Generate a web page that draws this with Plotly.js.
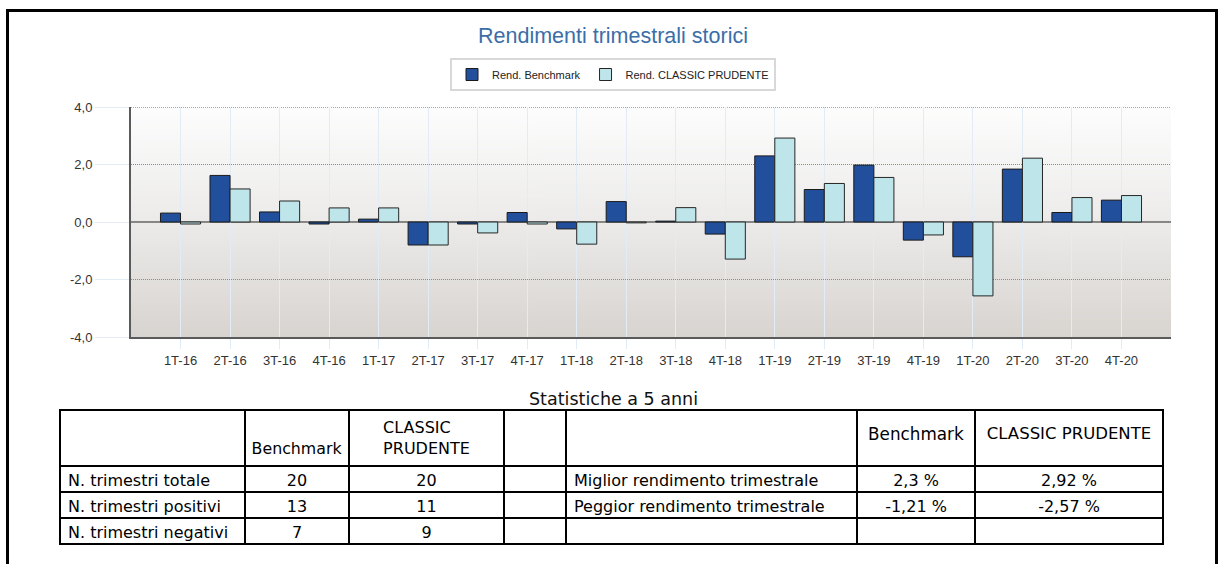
<!DOCTYPE html>
<html>
<head>
<meta charset="utf-8">
<script src="https://cdn.plot.ly/plotly-3.0.1.min.js"></script>
<style>
html,body{margin:0;padding:0;background:#fff;}
#chart{width:1226px;height:564px;}
</style>
</head>
<body>
<div id="chart"></div>
<script>
// ---- Data ----
const quarters = ['1T-16','2T-16','3T-16','4T-16','1T-17','2T-17','3T-17','4T-17','1T-18','2T-18',
                  '3T-18','4T-18','1T-19','2T-19','3T-19','4T-19','1T-20','2T-20','3T-20','4T-20'];
const benchmark = [0.31, 1.62, 0.35, -0.07, 0.10, -0.80, -0.07, 0.33, -0.24, 0.71,
                   0.03, -0.42, 2.30, 1.13, 1.98, -0.63, -1.21, 1.84, 0.33, 0.76];
const prudente  = [-0.07, 1.15, 0.73, 0.49, 0.49, -0.80, -0.38, -0.07, -0.77, -0.03,
                   0.50, -1.29, 2.92, 1.34, 1.55, -0.45, -2.57, 2.22, 0.85, 0.92];
const seriesNames = ['Rend. Benchmark', 'Rend. CLASSIC PRUDENTE'];
const yTicks = [-4, -2, 0, 2, 4];
const yTickText = ['-4,0', '-2,0', '0,0', '2,0', '4,0'];

const tableHeader = ['', '\u00a0<br>Benchmark', 'CLASSIC<br>PRUDENTE', '', '', '<br>Benchmark', '<br>CLASSIC PRUDENTE'];
const statLabels = ['N. trimestri totale', 'N. trimestri positivi', 'N. trimestri negativi'];
const statBench = ['20', '13', '7'];
const statPrud = ['20', '11', '9'];
const statBlank = ['', '', ''];
const recLabels = ['Miglior rendimento trimestrale', 'Peggior rendimento trimestrale', ''];
const recBench = ['2,3 %', '-1,21 %', ''];
const recPrud = ['2,92 %', '-2,57 %', ''];

// ---- Layout helpers (pixel -> paper) ----
const W = 1226, H = 564;
const px = x => x / W;
const py = y => 1 - y / H;

// gradient background image
function gradientURL() {
  const c = document.createElement('canvas');
  c.width = 4; c.height = 256;
  const g = c.getContext('2d');
  const grd = g.createLinearGradient(0, 0, 0, 256);
  grd.addColorStop(0, '#fdfdfd');
  grd.addColorStop(0.5, '#ecebea');
  grd.addColorStop(1, '#d8d4d0');
  g.fillStyle = grd;
  g.fillRect(0, 0, 4, 256);
  return c.toDataURL('image/png');
}

const plotL = 131, plotR = 1171, plotT = 107, plotB = 337;
const tFam = '"DejaVu Sans", sans-serif';

const traces = [
  {
    type: 'bar', name: seriesNames[0], x: quarters, y: benchmark,
    marker: {color: '#214f9c', line: {color: '#1a1a1a', width: 1}},
    hoverinfo: 'x+y'
  },
  {
    type: 'bar', name: seriesNames[1], x: quarters, y: prudente,
    marker: {color: '#bde5ea', line: {color: '#262626', width: 1}},
    hoverinfo: 'x+y'
  },
  {
    type: 'table',
    domain: {x: [px(60), px(1163)], y: [py(562), py(410)]},
    columnwidth: [185, 104, 155, 62, 291, 118, 188],
    header: {
      values: tableHeader,
      align: ['left', 'center', 'center', 'center', 'left', 'center', 'center'],
      line: {color: '#000', width: 2},
      fill: {color: '#fff'},
      font: {family: tFam, size: [16, 15.8, 16, 16, 16, 16.8, 16.5], color: '#000'},
      height: 50
    },
    cells: {
      values: [statLabels, statBench, statPrud, statBlank, recLabels, recBench, recPrud],
      align: ['left', 'center', 'center', 'center', 'left', 'center', 'center'],
      line: {color: '#000', width: 2},
      fill: {color: '#fff'},
      font: {family: tFam, size: 16, color: '#000'},
      height: 26
    }
  }
];

const layout = {
  width: W, height: H, autosize: false,
  margin: {l: 0, r: 0, t: 0, b: 0, pad: 0},
  paper_bgcolor: '#fff',
  plot_bgcolor: 'rgba(0,0,0,0)',
  separators: ',.',
  font: {family: '"Liberation Sans", Arial, sans-serif', size: 12, color: '#333'},
  title: {
    text: 'Rendimenti trimestrali storici',
    font: {family: '"Liberation Sans", Arial, sans-serif', size: 21.5, color: '#3b6ea8'},
    x: 0.5, xanchor: 'center', xref: 'paper',
    y: py(35), yanchor: 'middle', yref: 'container'
  },
  barmode: 'group', bargap: 0.19, bargroupgap: 0,
  showlegend: true,
  legend: {
    orientation: 'h', x: 0.5, xanchor: 'center', y: py(58), yanchor: 'top',
    bgcolor: '#fff', bordercolor: '#d8d8d8', borderwidth: 2,
    font: {family: '"Liberation Sans", Arial, sans-serif', size: 11, color: '#222'},
    itemwidth: 30, traceorder: 'normal'
  },
  xaxis: {
    domain: [px(plotL), px(plotR)],
    type: 'category', range: [-1, 20],
    showgrid: true, gridcolor: '#e2ecf7', gridwidth: 1,
    ticks: 'outside', ticklen: 10, tickcolor: '#e2ecf7', tickwidth: 1,
    showline: true, linecolor: '#5a5a5a', linewidth: 2,
    tickfont: {size: 13, color: '#333'},
    zeroline: false, fixedrange: true
  },
  yaxis: {
    domain: [py(plotB), py(plotT)],
    range: [-4, 4], tickvals: yTicks, ticktext: yTickText,
    showgrid: true, gridcolor: '#8c8c8c', griddash: '1px,1px', gridwidth: 1,
    ticks: 'outside', ticklen: 34, tickcolor: '#e2ecf7', tickwidth: 1,
    showline: true, linecolor: '#5a5a5a', linewidth: 2,
    tickfont: {size: 13, color: '#333'},
    zeroline: false, fixedrange: true
  },
  images: [{
    source: gradientURL(), xref: 'paper', yref: 'paper',
    x: px(plotL), y: py(plotT), sizex: px(plotR) - px(plotL), sizey: (plotB - plotT) / H,
    xanchor: 'left', yanchor: 'top', sizing: 'stretch', layer: 'below'
  }],
  shapes: [
    {type: 'line', xref: 'x domain', yref: 'y', x0: 0, x1: 1, y0: 0, y1: 0,
     line: {color: '#1e1e1e', width: 1}, layer: 'below'},
    {type: 'line', xref: 'x domain', yref: 'y', x0: 0, x1: 1, y0: 4, y1: 4,
     line: {color: '#8c8c8c', width: 1.5, dash: '1px,1px'}, layer: 'below'},
    {type: 'rect', xref: 'paper', yref: 'paper', x0: px(7.5), x1: px(1216.5), y0: -0.1, y1: py(10.5),
     line: {color: '#000', width: 3}, fillcolor: 'rgba(0,0,0,0)', layer: 'above'}
  ],
  annotations: [{
    text: 'Statistiche a 5 anni', xref: 'paper', yref: 'paper', x: 0.5, y: py(399),
    xanchor: 'center', yanchor: 'middle', showarrow: false,
    font: {family: tFam, size: 17.5, color: '#111'}
  }]
};

Plotly.newPlot('chart', traces, layout, {displayModeBar: false, staticPlot: true});
</script>
</body>
</html>
